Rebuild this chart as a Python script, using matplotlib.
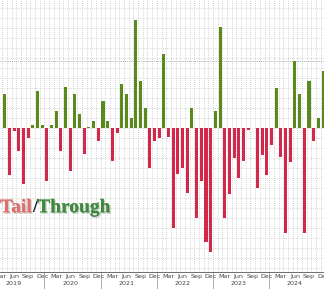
import matplotlib
matplotlib.use("Agg")
import matplotlib.pyplot as plt
import matplotlib.patheffects as pe
import numpy as np

# monthly auction tail (-) / through (+), bp, Apr 2019 .. Dec 2024
months = ["Apr19", "May19", "Jun19", "Jul19", "Aug19", "Sep19", "Oct19", "Nov19", "Dec19"]
for yr in range(20, 25):
    for m in ["Jan", "Feb", "Mar", "Apr", "May", "Jun", "Jul", "Aug", "Sep", "Oct", "Nov", "Dec"]:
        months.append(m + str(yr))

values = [0.85, -1.18, -0.08, -0.58, -1.40, -0.25, 0.08, 0.93, 0.08,
          -1.33, 0.08, 0.43, -0.58, 1.03, -1.08, 0.85, 0.35, -0.65, 0.03, 0.18, -0.33,
          0.68, 0.18, -0.83, -0.13, 1.10, 0.85, 0.25, 2.70, 1.18, 0.50, -1.00, -0.33,
          -0.25, 1.85, -0.23, -2.50, -1.15, -1.00, -1.63, 0.50, -2.25, -1.33, -2.85, -3.10,
          0.43, 2.53, -2.25, -1.65, -0.75, -1.25, -0.83, -0.05, 0.00, -1.50, -0.68, -1.18,
          -0.43, 1.00, -0.73, -2.63, -0.85, 1.68, 0.85, -2.63, 1.18, -0.33, 0.25, 1.43]

tick_labels = ["Mar", "Jun", "Sep", "Dec"]
years = ["2019", "2020", "2021", "2022", "2023", "2024"]

RED = "#d3284a"
GREEN = "#5b8a1c"

fig = plt.figure(figsize=(3.24, 2.89), dpi=100)
ax = fig.add_axes([0, 0.06, 1, 0.94])

x = np.arange(1, len(values) + 1)  # month index, 0 = Mar 2019
vals = np.array(values)
colors = [GREEN if v > 0 else RED for v in vals]
ax.bar(x, vals, width=0.65, color=colors, zorder=3)

ax.set_xlim(0.25, 69.2)
ax.set_ylim(-3.59, 3.2)

# dotted background grid
for k in np.arange(0.5, 70, 1):
    ax.axvline(k, color="#c4c4c4", lw=0.6, ls=(0, (1, 1.5)), zorder=1)
for yv in np.arange(-3.5, 3.2, 0.25):
    ax.axhline(yv, color="#cccccc", lw=0.6, ls=(0, (1, 1.5)), zorder=1)
ax.axhline(1.68, color="#b0b0b0", lw=0.7, ls=(0, (1, 1)), zorder=1)

for s in ["top", "left", "right"]:
    ax.spines[s].set_visible(False)
ax.spines["bottom"].set_color("#555555")
ax.spines["bottom"].set_linewidth(0.6)
ax.set_yticks([])

tick_pos = np.arange(0, 70, 3)
ax.set_xticks(tick_pos)
ax.set_xticklabels([tick_labels[i % 4] for i in range(len(tick_pos))],
                   fontsize=4.6, color="#444444")
ax.tick_params(axis="x", length=0, pad=1.5)

# year labels and separators
for i, yr in enumerate(years):
    ax.text(3 + 12 * i, -0.045, yr, transform=ax.get_xaxis_transform(),
            ha="center", va="center", fontsize=4.6, color="#444444", clip_on=False)
for b in np.arange(9.5, 70, 12):
    ax.plot([b, b], [0, -0.065], transform=ax.get_xaxis_transform(),
            color="#888888", lw=0.5, clip_on=False)

shadow = [pe.withSimplePatchShadow(offset=(1, -1), shadow_rgbFace="#888888", alpha=0.4), pe.Normal()]
t1 = ax.text(0.0, 0.235, "Tail", transform=ax.transAxes, fontsize=14,
             family="Liberation Serif", weight="bold", color="#dd6f6f",
             va="center", ha="left", path_effects=shadow, zorder=5)
fig.canvas.draw()
bb = t1.get_window_extent()
xa = ax.transAxes.inverted().transform((bb.x1, 0))[0]
t2 = ax.text(xa, 0.235, "/", transform=ax.transAxes, fontsize=14,
             family="Liberation Serif", weight="bold", color="#111111",
             va="center", ha="left", zorder=5)
bb = t2.get_window_extent()
xa = ax.transAxes.inverted().transform((bb.x1, 0))[0]
ax.text(xa, 0.235, "Through", transform=ax.transAxes, fontsize=14,
        family="Liberation Serif", weight="bold", color="#3f8a3f",
        va="center", ha="left", path_effects=shadow, zorder=5)

fig.savefig("out.png", dpi=100)
